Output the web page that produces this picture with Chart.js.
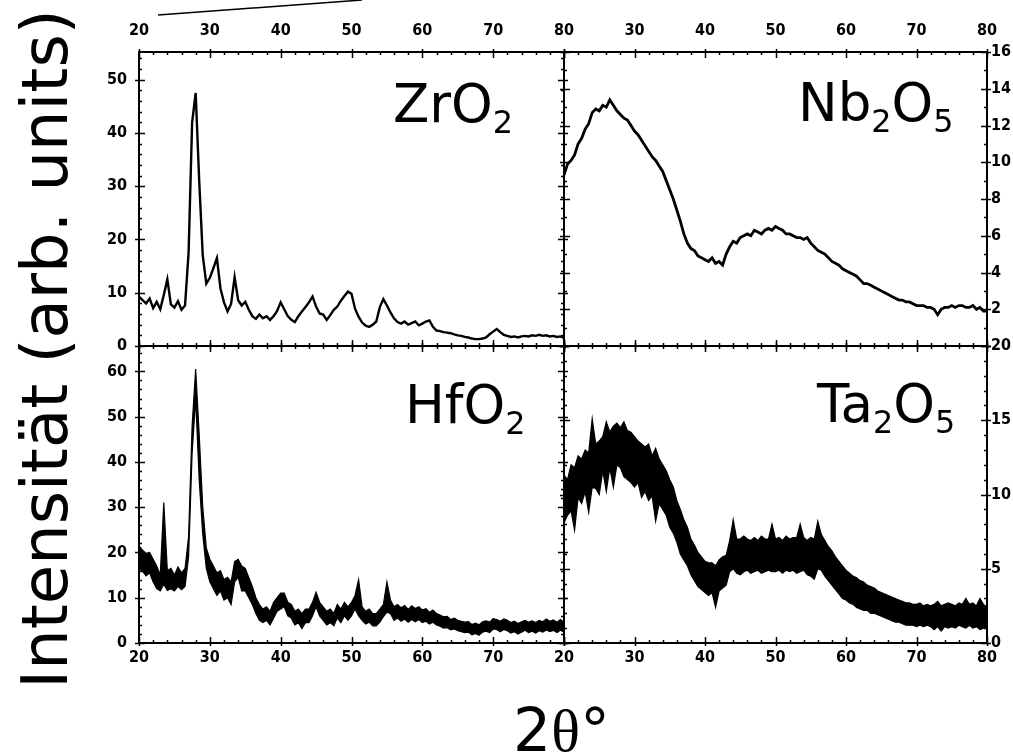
<!DOCTYPE html>
<html>
<head>
<meta charset="utf-8">
<script src="https://cdn.jsdelivr.net/npm/chart.js@4.4.0/dist/chart.umd.min.js"></script>
<style>
  html, body { margin: 0; padding: 0; background: #fff; }
  body { width: 1013px; height: 754px; position: relative; overflow: hidden; font-family: "DejaVu Sans", sans-serif; color: #000; }
  canvas { position: absolute; }
  .name { position: absolute; font-size: 53px; line-height: 53px; white-space: nowrap; }
  .name span { font-size: 0.6em; vertical-align: -0.35em; line-height: 0; }
  #ytitle { position: absolute; left: 45px; top: 349px; transform: translate(-50%, -50%) rotate(-90deg);
            font-size: 64px; line-height: 1; white-space: nowrap; }
  #xtitle { position: absolute; left: 513px; top: 700px; font-size: 60px; line-height: 60px; white-space: nowrap; }
  #xtitle .th { font-family: "Liberation Serif", "DejaVu Serif", serif; }
</style>
</head>
<body>
<svg style="position:absolute;left:0;top:0" width="1013" height="40"><line x1="158" y1="15" x2="362" y2="0" stroke="#000" stroke-width="1.5"/></svg>
<canvas id="zr"></canvas>
<canvas id="nb"></canvas>
<canvas id="hf"></canvas>
<canvas id="ta"></canvas>
<div class="name" style="left:393px;top:77px">ZrO<span>2</span></div>
<div class="name" style="left:798px;top:76px">Nb<span>2</span>O<span>5</span></div>
<div class="name" style="left:405px;top:378px">HfO<span>2</span></div>
<div class="name" style="left:817px;top:377px">Ta<span>2</span>O<span>5</span></div>
<div id="ytitle">Intensität (arb. units)</div>
<div id="xtitle">2<span class="th">θ</span>°</div>
<script>
// 2theta sampling grid, 20..80 deg every 0.5 deg
const twoTheta = [];
for (let t = 20; t <= 80; t += 0.5) twoTheta.push(t);

// one row = 5 degrees
const zro2 = [
  9.3, 8.6, 8.0, 8.9, 7.1, 8.3, 6.9, 9.6, 12.5, 7.8,
  7.2, 8.4, 6.8, 7.6, 17.5, 42, 47.5, 31, 17, 11.7,
  12.8, 14.6, 16.5, 10.8, 8.2, 6.5, 7.9, 12.9, 8.6, 7.6,
  8.3, 6.8, 5.6, 5.1, 5.9, 5.2, 5.6, 4.9, 5.6, 6.6,
  8.2, 6.9, 5.6, 4.9, 4.5, 5.6, 6.5, 7.3, 8.2, 9.3,
  7.4, 6.1, 5.9, 4.9, 5.8, 6.8, 7.4, 8.5, 9.4, 10.2,
  9.8, 7.0, 5.5, 4.4, 3.8, 3.6, 4.0, 4.6, 7.3, 8.8,
  7.6, 6.3, 5.2, 4.5, 4.2, 4.6, 4.0, 4.3, 4.6, 3.9,
  4.2, 4.6, 4.8, 3.6, 2.9, 2.8, 2.6, 2.5, 2.4, 2.2,
  2.0, 1.9, 1.7, 1.6, 1.4, 1.3, 1.3, 1.4, 1.6, 2.2,
  2.7, 3.2, 2.6, 2.1, 1.9, 1.7, 1.8, 1.6, 1.8, 1.9,
  1.8, 2.0, 1.9, 2.1, 1.9, 2.0, 1.8, 1.9, 1.7, 1.8,
  1.5
];

const nb2o5 = [
  9.3, 9.9, 10.1, 10.4, 11.0, 11.3, 11.8, 12.1, 12.7, 12.9,
  12.8, 13.1, 13.0, 13.4, 13.1, 12.8, 12.6, 12.4, 12.3, 12.0,
  11.7, 11.5, 11.2, 10.9, 10.6, 10.3, 10.1, 9.8, 9.5, 9.0,
  8.5, 8.0, 7.4, 6.8, 6.1, 5.6, 5.3, 5.2, 4.9, 4.8,
  4.7, 4.6, 4.8, 4.5, 4.6, 4.4, 5.0, 5.4, 5.7, 5.6,
  5.9, 6.0, 6.1, 6.0, 6.3, 6.2, 6.1, 6.3, 6.4, 6.3,
  6.5, 6.4, 6.3, 6.1, 6.1, 6.0, 5.9, 5.9, 5.8, 5.9,
  5.6, 5.4, 5.2, 5.1, 5.0, 4.8, 4.6, 4.5, 4.4, 4.2,
  4.1, 4.0, 3.9, 3.8, 3.6, 3.4, 3.4, 3.3, 3.2, 3.1,
  3.0, 2.9, 2.8, 2.7, 2.6, 2.5, 2.5, 2.4, 2.4, 2.3,
  2.2, 2.2, 2.2, 2.1, 2.1, 2.0, 1.7, 2.0, 2.1, 2.1,
  2.2, 2.1, 2.2, 2.2, 2.1, 2.1, 2.2, 2.0, 2.1, 1.9,
  1.9
];

// HfO2 and Ta2O5 are noisy: upper and lower edge of the noise band
const hfo2Upper = [
  21.5, 20.5, 19.8, 20.0, 18.5, 17.0, 15.0, 31.0, 16.0, 16.5,
  15.0, 16.8, 15.5, 16.5, 23.5, 48.0, 60.5, 46.0, 30.0, 21.0,
  18.5, 17.0, 15.5, 16.0, 14.0, 14.5, 13.5, 18.0, 18.5, 17.0,
  16.5, 14.5, 12.5, 10.0, 8.5, 7.5, 8.0, 7.0, 9.0, 10.0,
  11.0, 11.0, 9.0, 8.5, 7.0, 7.5, 6.5, 7.5, 7.5, 9.0,
  11.2, 9.0, 8.0, 7.0, 7.5, 6.5, 8.5, 7.5, 9.0, 8.0,
  9.0, 10.5, 14.0, 8.0, 7.0, 7.5, 6.5, 6.5, 7.5, 8.5,
  13.5, 9.5, 8.0, 8.5, 7.8, 8.3, 7.4, 8.2, 7.6, 8.0,
  7.3, 7.6, 6.8, 7.3, 6.5, 6.2, 5.8, 5.9, 5.2, 5.5,
  5.0, 4.8, 4.6, 4.7, 4.1, 4.4, 4.0, 4.7, 4.9, 4.6,
  5.4, 5.2, 4.8, 5.3, 5.0, 4.5, 4.8, 4.3, 4.7, 5.0,
  4.6, 4.9, 4.5, 5.0, 4.7, 5.3, 4.8, 5.1, 4.6, 5.2,
  4.6
];
const hfo2Lower = [
  16.5, 15.8, 14.8, 15.5, 13.5, 12.0, 11.5, 13.0, 11.6, 12.0,
  11.5, 12.5, 11.8, 12.5, 19.0, 42.0, 54.0, 36.0, 24.0, 16.5,
  13.5, 12.0, 10.5, 11.5, 9.5, 10.0, 8.5, 13.5, 14.5, 11.5,
  11.5, 10.0, 8.5, 6.5, 5.0, 4.5, 5.0, 4.0, 5.5, 7.0,
  7.5, 8.0, 6.0, 5.5, 4.0, 4.5, 3.2, 4.5, 4.5, 6.0,
  8.0, 6.0, 5.0, 4.0, 4.5, 3.8, 5.5, 4.5, 6.0, 5.0,
  6.0, 7.5, 6.0, 5.0, 4.2, 4.6, 3.8, 3.8, 4.6, 5.8,
  6.8, 6.5, 5.0, 5.5, 4.8, 5.3, 4.6, 5.2, 4.7, 5.2,
  4.5, 4.8, 4.2, 4.6, 4.0, 3.7, 3.3, 3.4, 2.9, 3.1,
  2.7, 2.5, 2.3, 2.4, 1.8, 2.1, 1.7, 2.4, 2.6, 2.3,
  3.1, 3.0, 2.5, 3.0, 2.7, 2.2, 2.5, 2.0, 2.4, 2.8,
  2.3, 2.6, 2.2, 2.7, 2.4, 2.9, 2.5, 2.8, 2.3, 2.8,
  2.4
];

const ta2o5Upper = [
  11.3, 11.0, 12.0, 11.8, 12.6, 12.4, 13.0, 12.8, 15.1, 13.4,
  13.6, 13.9, 14.9, 14.2, 14.6, 14.8, 14.5, 14.9, 14.3, 14.2,
  13.9, 13.6, 13.4, 13.2, 13.4, 12.6, 13.1, 12.4, 12.0, 11.6,
  11.0, 10.5, 9.6, 9.0, 8.3, 7.8, 7.0, 6.6, 6.1, 5.8,
  5.5, 5.4, 5.4, 5.2, 5.6, 5.8, 5.9, 6.9, 8.3, 7.0,
  7.0, 7.2, 7.0, 6.9, 7.1, 6.9, 7.2, 7.0, 7.0, 8.0,
  7.0, 7.1, 6.9, 7.2, 7.0, 7.1, 7.1, 8.0, 7.1, 6.9,
  7.1, 7.0, 8.2, 7.3, 6.9, 6.5, 6.2, 5.8, 5.5, 5.2,
  4.9, 4.7, 4.5, 4.4, 4.2, 4.1, 3.9, 3.8, 3.7, 3.5,
  3.4, 3.3, 3.2, 3.1, 3.0, 2.9, 2.8, 2.7, 2.7, 2.6,
  2.6, 2.7, 2.5, 2.6, 2.5, 2.6, 2.8, 2.5, 2.6, 2.7,
  2.6, 2.5, 2.7, 2.6, 3.0, 2.6, 2.7, 2.5, 3.0, 2.6,
  2.4
];
const ta2o5Lower = [
  8.1, 8.6, 8.9, 7.6, 9.8, 9.4, 10.2, 8.8, 10.5, 10.4,
  10.0, 11.6, 10.2, 11.8, 10.5, 12.0, 11.8, 11.2, 11.0, 10.8,
  10.5, 10.8, 9.8, 10.2, 9.6, 9.9, 8.2, 9.4, 9.0, 8.6,
  7.8, 7.4, 6.8, 6.0, 5.6, 5.2, 4.6, 4.2, 3.8, 3.6,
  3.4, 3.2, 3.4, 2.4, 3.5, 3.7, 3.9, 4.8, 5.0, 4.7,
  4.6, 4.8, 4.9, 4.7, 4.8, 4.9, 4.7, 4.8, 4.9, 4.8,
  4.8, 4.9, 4.7, 4.9, 4.8, 4.9, 4.7, 4.8, 4.9, 4.6,
  4.5, 4.3, 5.0, 4.9, 4.5, 4.2, 3.9, 3.6, 3.3, 3.0,
  2.9, 2.7, 2.6, 2.4, 2.3, 2.2, 2.2, 2.0, 2.0, 1.9,
  1.8, 1.7, 1.6, 1.5, 1.4, 1.4, 1.3, 1.2, 1.2, 1.2,
  1.1, 1.2, 1.1, 1.2, 1.1, 0.9, 1.1, 0.8, 1.1, 1.0,
  1.1, 1.0, 1.2, 1.1, 1.0, 1.2, 1.0, 1.1, 0.9, 1.0,
  1.1
];

const tickFont = { family: "'Liberation Sans Narrow', 'DejaVu Sans Condensed', sans-serif", size: 16, weight: 'bold' };
const M = 50; // room around each plot frame

const isStep = (v, step) => Math.abs(v / step - Math.round(v / step)) < 1e-6;

// frame and inward ticks on all four sides
const framePlugin = {
  id: 'frame',
  afterDatasetsDraw(chart, args, opts) {
    const { ctx, chartArea: a, scales: { x, y } } = chart;
    ctx.save();
    ctx.strokeStyle = '#000';
    ctx.lineWidth = 2;
    ctx.strokeRect(a.left, a.top, a.right - a.left, a.bottom - a.top);
    ctx.lineWidth = 1.5;
    ctx.beginPath();
    for (let v = 20; v <= 80.001; v += 2) {
      const px = Math.round(x.getPixelForValue(v)) + 0.5;
      const major = isStep(v, 10);
      const len = major ? 6 : 3;
      ctx.moveTo(px, a.top - (major ? 3 : 0)); ctx.lineTo(px, a.top + len);
      ctx.moveTo(px, a.bottom + (major ? 3 : 0)); ctx.lineTo(px, a.bottom - len);
    }
    for (let v = 0; v <= y.max + 1e-6; v += opts.minor) {
      const py = Math.round(y.getPixelForValue(v)) + 0.5;
      const major = isStep(v, opts.major);
      const len = major ? 6 : 3;
      ctx.moveTo(a.left - (major ? 4 : 0), py); ctx.lineTo(a.left + len, py);
      ctx.moveTo(a.right + (major ? 4 : 0), py); ctx.lineTo(a.right - len, py);
    }
    ctx.stroke();
    ctx.restore();
  }
};

const toPoints = (values) => values.map((v, i) => ({ x: twoTheta[i], y: v }));

function makePanel(id, rect, series, cfg) {
  const canvas = document.getElementById(id);
  const w = rect.right - rect.left + 2 * M;
  const h = rect.bottom - rect.top + 2 * M;
  canvas.width = w;
  canvas.height = h;
  canvas.style.width = w + 'px';
  canvas.style.height = h + 'px';
  canvas.style.left = (rect.left - M) + 'px';
  canvas.style.top = (rect.top - M) + 'px';

  let datasets;
  if (series.length === 2) {
    // noise band: fill between the upper and the lower edge
    datasets = [
      { data: toPoints(series[0]), borderColor: '#000', backgroundColor: '#000', borderWidth: cfg.lineWidth,
        pointRadius: 0, tension: 0, fill: '+1' },
      { data: toPoints(series[1]), borderColor: '#000', borderWidth: cfg.lineWidth,
        pointRadius: 0, tension: 0, fill: false },
    ];
  } else {
    datasets = [
      { data: toPoints(series[0]), borderColor: '#000', borderWidth: cfg.lineWidth,
        pointRadius: 0, tension: 0, fill: false },
    ];
  }

  new Chart(canvas, {
    type: 'line',
    data: { datasets },
    options: {
      responsive: false,
      animation: false,
      devicePixelRatio: 1,
      layout: {
        padding: {
          left: cfg.yPos === 'left' ? 0 : M,
          right: cfg.yPos === 'right' ? 0 : M,
          top: cfg.xPos === 'top' ? 0 : M,
          bottom: cfg.xPos === 'bottom' ? 0 : M,
        },
      },
      plugins: {
        legend: { display: false },
        tooltip: { enabled: false },
        frame: { major: cfg.yStep, minor: cfg.yMinor },
      },
      scales: {
        x: {
          type: 'linear',
          position: cfg.xPos,
          min: 20,
          max: 80,
          grid: { display: false, drawTicks: false },
          border: { display: false },
          ticks: {
            stepSize: 10,
            autoSkip: false,
            maxRotation: 0,
            includeBounds: false,
            font: tickFont,
            color: '#000',
            padding: cfg.xPos === 'top' ? 12 : 5,
            callback: (v) => (cfg.hideX.includes(v) ? '' : v),
          },
          afterFit: (s) => { s.height = M; },
        },
        y: {
          type: 'linear',
          position: cfg.yPos,
          min: 0,
          max: cfg.yMax,
          grid: { display: false, drawTicks: false },
          border: { display: false },
          ticks: {
            stepSize: cfg.yStep,
            autoSkip: false,
            includeBounds: false,
            font: tickFont,
            color: '#000',
            padding: cfg.yPos === 'left' ? 12 : 4,
            callback: (v) => (!isStep(v, cfg.yStep) || cfg.hideY.includes(v) ? '' : v),
          },
          afterFit: (s) => { s.width = M; },
        },
      },
    },
    plugins: [framePlugin],
  });
}

makePanel('zr', { left: 139, top: 52, right: 564, bottom: 346 }, [zro2],
  { xPos: 'top', yPos: 'left', yMax: 55.2, yStep: 10, yMinor: 2, hideX: [], hideY: [], lineWidth: 2.4 });
makePanel('nb', { left: 564, top: 52, right: 987, bottom: 346 }, [nb2o5],
  { xPos: 'top', yPos: 'right', yMax: 16, yStep: 2, yMinor: 1, hideX: [20], hideY: [0], lineWidth: 2.8 });
makePanel('hf', { left: 139, top: 346, right: 564, bottom: 643 }, [hfo2Upper, hfo2Lower],
  { xPos: 'bottom', yPos: 'left', yMax: 65.6, yStep: 10, yMinor: 2, hideX: [80], hideY: [], lineWidth: 1.2 });
makePanel('ta', { left: 564, top: 346, right: 987, bottom: 643 }, [ta2o5Upper, ta2o5Lower],
  { xPos: 'bottom', yPos: 'right', yMax: 20, yStep: 5, yMinor: 1, hideX: [], hideY: [], lineWidth: 1.2 });
</script>
</body>
</html>
